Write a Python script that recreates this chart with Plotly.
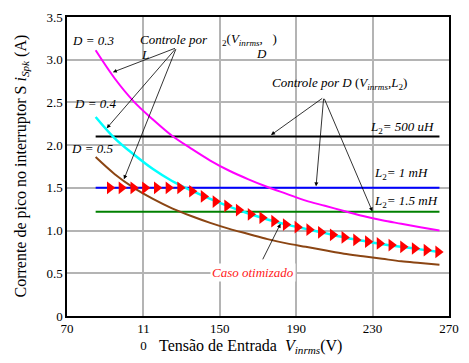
import plotly.graph_objects as go

V = [85, 95, 105, 115, 125, 135, 145, 155, 165, 175, 185, 195, 205, 215, 225, 235, 245, 255, 265]
i_d03 = [3.11, 2.78, 2.51, 2.30, 2.11, 1.96, 1.82, 1.70, 1.60, 1.51, 1.43, 1.35, 1.29, 1.23, 1.17, 1.12, 1.08, 1.04, 1.00]
i_d04 = [2.33, 2.08, 1.89, 1.72, 1.58, 1.47, 1.37, 1.28, 1.20, 1.13, 1.07, 1.02, 0.97, 0.92, 0.88, 0.84, 0.81, 0.78, 0.75]
i_d05 = [1.86, 1.66, 1.50, 1.37, 1.26, 1.17, 1.09, 1.02, 0.96, 0.90, 0.85, 0.81, 0.77, 0.73, 0.70, 0.67, 0.64, 0.62, 0.60]

L_range = [85, 265]
i_L500u = [2.10, 2.10]
i_L1m = [1.50, 1.50]
i_L15m = [1.22, 1.22]

V_opt = [92.4, 98.5, 104.7, 110.8, 117.0, 123.1, 129.2, 135.4, 141.5, 147.7, 153.8, 159.9, 166.1,
         172.2, 178.4, 184.5, 190.6, 196.8, 202.9, 209.1, 215.2, 221.3, 227.5, 233.6, 239.8, 245.9,
         252.0, 258.2, 264.3]
i_opt = [1.5, 1.5, 1.5, 1.5, 1.5, 1.5, 1.5, 1.46, 1.40, 1.34, 1.29, 1.24, 1.19, 1.15, 1.11, 1.07,
         1.04, 1.01, 0.98, 0.95, 0.92, 0.89, 0.87, 0.85, 0.83, 0.81, 0.79, 0.77, 0.75]

x_ticks = [70, 110, 150, 190, 230, 270]
x_ticktext = ["70", "11<br>0", "150", "190", "230", "270"]
y_ticks = [0, 0.5, 1.0, 1.5, 2.0, 2.5, 3.0, 3.5]
y_ticktext = ["0", "0.5", "1.0", "1.5", "2.0", "2.5", "3.0", "3.5"]

FONT = "'Liberation Serif', 'Times New Roman', Times, serif"

fig = go.Figure()
fig.add_trace(go.Scatter(x=L_range, y=i_L500u, mode="lines", line=dict(color="black", width=2)))
fig.add_trace(go.Scatter(x=L_range, y=i_L1m, mode="lines", line=dict(color="#0000ff", width=2)))
fig.add_trace(go.Scatter(x=L_range, y=i_L15m, mode="lines", line=dict(color="#008000", width=2)))
fig.add_trace(go.Scatter(x=V, y=i_d03, mode="lines", line=dict(color="#ff00ff", width=2, shape="spline")))
fig.add_trace(go.Scatter(x=V, y=i_d04, mode="lines", line=dict(color="#00ffff", width=2.5, shape="spline")))
fig.add_trace(go.Scatter(x=V, y=i_d05, mode="lines", line=dict(color="#8b4513", width=2, shape="spline")))
fig.add_trace(go.Scatter(x=V_opt, y=i_opt, mode="markers",
                         marker=dict(symbol="triangle-right", size=11, color="#ff0000", line=dict(width=0))))

anns = []
def txt(x, y, t, color="black", size=13, bg=None):
    d = dict(x=x, y=y, xref="x", yref="y", text=t, showarrow=False,
             font=dict(family=FONT, size=size, color=color), xanchor="center", yanchor="middle")
    if bg:
        d["bgcolor"] = bg
    anns.append(d)

def arrow(tx, ty, hx, hy):
    anns.append(dict(x=hx, y=hy, ax=tx, ay=ty, xref="x", yref="y", axref="x", ayref="y",
                     text="", showarrow=True, arrowhead=2, arrowsize=1, arrowwidth=0.8,
                     arrowcolor="black"))

txt(83.5, 3.23, "<i>D = 0.3</i>")
txt(84.6, 2.49, "<i>D = 0.4</i>")
txt(83.0, 1.96, "<i>D = 0.5</i>")
txt(126.2, 3.24, "<i>Controle por</i>")
txt(110.6, 3.06, "<i>L</i>")
txt(165.5, 3.24, "<sub>2</sub>(<i>V</i><sub><i>inrms</i></sub>,   )")
txt(171.6, 3.07, "<i>D</i>")
txt(212.7, 2.72, "<i>Controle por D</i> (<i>V</i><sub><i>inrms</i></sub>,<i>L</i><sub>2</sub>)")
txt(245.5, 2.21, "<i>L</i><sub>2</sub><i>= 500 uH</i>")
txt(245.0, 1.665, "<i>L</i><sub>2</sub><i>= 1 mH</i>")
txt(247.6, 1.337, "<i>L</i><sub>2</sub><i>= 1.5 mH</i>")
txt(167.4, 0.51, "<i>Caso otimizado</i>", color="#ff2020", bg="white")

arrow(127.3, 3.14, 94.0, 2.854)
arrow(127.3, 3.14, 90.8, 2.198)
arrow(127.3, 3.14, 99.8, 1.60)
arrow(204.4, 2.56, 176.8, 2.118)
arrow(204.4, 2.56, 200.4, 1.518)
arrow(204.4, 2.56, 229.9, 1.224)
arrow(172.1, 0.646, 181.8, 1.08)

anns.append(dict(x=0.5, y=0, xref="paper", yref="paper", yshift=-42, xshift=-8,
                 text="Tensão de Entrada  <i>V</i><sub><i>inrms</i></sub>(V)", showarrow=False,
                 font=dict(family=FONT, size=16, color="black"), xanchor="center", yanchor="bottom"))
anns.append(dict(x=0, y=0.5, xref="paper", yref="paper", xshift=-46,
                 text="Corrente de pico no interruptor S <i>i</i><sub><i>Spk</i></sub> (A)", showarrow=False,
                 textangle=-90, font=dict(family=FONT, size=16, color="black"),
                 xanchor="center", yanchor="middle"))

fig.update_layout(
    width=469, height=363,
    margin=dict(l=67, r=18, t=10, b=43),
    paper_bgcolor="white", plot_bgcolor="white",
    showlegend=False,
    annotations=anns,
    font=dict(family=FONT, size=13, color="black"),
)
fig.update_xaxes(range=[70, 270], tickvals=x_ticks, ticktext=x_ticktext,
                 showgrid=True, gridcolor="#b4b4b4", gridwidth=1.5,
                 showline=True, linecolor="black", linewidth=1.5, mirror=True,
                 ticks="", zeroline=False, tickfont=dict(family=FONT, size=13))
fig.update_yaxes(range=[0, 3.5], tickvals=y_ticks, ticktext=y_ticktext,
                 showgrid=True, gridcolor="#b4b4b4", gridwidth=1.5,
                 showline=True, linecolor="black", linewidth=1.5, mirror=True,
                 ticks="", zeroline=False, tickfont=dict(family=FONT, size=13))

# remove the page's default 8px body margin so the figure fills the window exactly
fig.write_html("out.html", config={"displayModeBar": False},
               post_script="document.body.style.margin='0';document.body.style.overflow='hidden';")
